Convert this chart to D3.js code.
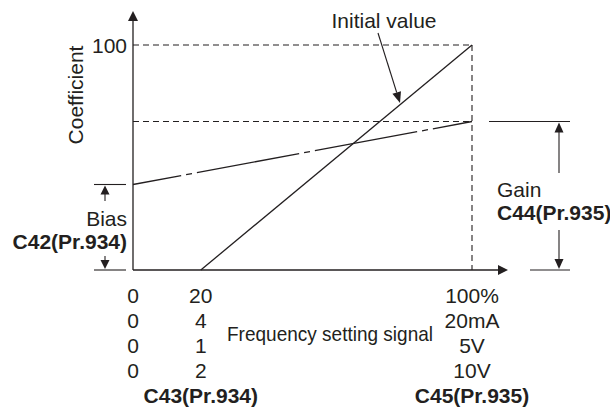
<!DOCTYPE html>
<html><head><meta charset="utf-8">
<script src="https://cdn.jsdelivr.net/npm/d3@7"></script>
<style>
html,body{margin:0;padding:0;background:#fff;}
svg{display:block;}
text{font-family:"Liberation Sans",Arial,sans-serif;fill:#231f20;}
</style></head>
<body>
<script>
// ---- data ----
const coefTicks = [100];
const biasValue = 38;      // coefficient at 0 % signal (bias)
const gainValue = 66;      // coefficient at 100 % signal (gain)
const signalTickPositions = [0, 20, 100];   // % of frequency setting signal
const signalRows = [
  ["0", "20", "100%"],
  ["0", "4", "20mA"],
  ["0", "1", "5V"],
  ["0", "2", "10V"]
];
const paramLabels = ["C43(Pr.934)", "C45(Pr.935)"];
const initialLine = [{x: 20, y: 0}, {x: 100, y: 100}];
const adjustedLine = [{x: 0, y: biasValue}, {x: 100, y: gainValue}];

// ---- drawing ----
const W = 610, H = 407;
const ink = "#231f20";
const svg = d3.select("body").append("svg").attr("width", W).attr("height", H);
const x = d3.scaleLinear().domain([0, 100]).range([133, 472]);
const y = d3.scaleLinear().domain([0, 100]).range([270, 45]);
const FS = 21;

function tri(cx, cy, dir, w = 10, h = 10) {
  let pts;
  if (dir === "up") pts = [[cx, cy], [cx - w / 2, cy + h], [cx + w / 2, cy + h]];
  else if (dir === "down") pts = [[cx, cy], [cx - w / 2, cy - h], [cx + w / 2, cy - h]];
  else pts = [[cx, cy], [cx - h, cy - w / 2], [cx - h, cy + w / 2]];
  svg.append("polygon").attr("points", pts.map(p => p.join(",")).join(" ")).attr("fill", ink);
}
function line(x1, y1, x2, y2, opts = {}) {
  const l = svg.append("line").attr("x1", x1).attr("y1", y1).attr("x2", x2).attr("y2", y2)
    .attr("stroke", opts.color || ink).attr("stroke-width", opts.w || 1.2);
  if (opts.dash) l.attr("stroke-dasharray", opts.dash);
  if (opts.offset) l.attr("stroke-dashoffset", opts.offset);
  return l;
}

// dashed reference lines
coefTicks.forEach(t => line(x(0), y(t), x(100), y(t), {dash: "6,4", w: 1.1}));
line(x(0), y(gainValue), x(100), y(gainValue), {dash: "6,4", w: 1.1});
line(x(100), y(100), x(100), y(0), {dash: "6,4", w: 1.1});

// axes
line(x(0), y(0), x(0), 20, {w: 1.3});
tri(x(0), 11, "up");
line(x(0), y(0), 498, y(0), {w: 1.3});
tri(508, y(0), "right");

// lines
const lg = d3.line().x(d => x(d.x)).y(d => y(d.y));
svg.append("path").datum(initialLine).attr("d", lg).attr("fill", "none").attr("stroke", ink).attr("stroke-width", 1.3);
svg.append("path").datum(adjustedLine).attr("d", lg).attr("fill", "none").attr("stroke", ink).attr("stroke-width", 1.3)
  .attr("stroke-dasharray", "104,5,6,5").attr("stroke-dashoffset", 55);

// y tick label
coefTicks.forEach(t => svg.append("text").attr("x", 127).attr("y", y(t) + 8).attr("text-anchor", "end")
  .attr("font-size", FS).text(t));

// y title
svg.append("text").attr("transform", "translate(83,95) rotate(-90)").attr("text-anchor", "middle")
  .attr("font-size", FS).text("Coefficient");

// initial value label and arrow
svg.append("text").attr("x", 384).attr("y", 28).attr("text-anchor", "middle").attr("font-size", FS).text("Initial value");
{
  const x1 = 378, y1 = 33, x2 = 400, y2 = 103;
  const ang = Math.atan2(y2 - y1, x2 - x1);
  const hl = 11, hw = 4.5;
  const bx = x2 - hl * Math.cos(ang), by = y2 - hl * Math.sin(ang);
  line(x1, y1, bx, by, {w: 1.1});
  svg.append("polygon").attr("fill", ink).attr("points", [
    [x2, y2],
    [bx + hw * Math.sin(ang), by - hw * Math.cos(ang)],
    [bx - hw * Math.sin(ang), by + hw * Math.cos(ang)]
  ].map(p => p.join(",")).join(" "));
}

// bias annotation
line(94, y(biasValue), 126, y(biasValue), {w: 1.1});
line(94, y(0), 126, y(0), {w: 1.1});
tri(105, y(biasValue) + 1, "up", 9, 9);
line(105, y(biasValue) + 9, 105, 201, {w: 1.1});
line(105, 256, 105, y(0) - 9, {w: 1.1});
tri(105, y(0) - 1, "down", 9, 9);
svg.append("text").attr("x", 127).attr("y", 226).attr("text-anchor", "end").attr("font-size", FS).text("Bias");
svg.append("text").attr("x", 127).attr("y", 249).attr("text-anchor", "end").attr("font-size", FS)
  .attr("font-weight", "bold").text("C42(Pr.934)");

// gain annotation
line(489, y(gainValue), 570, y(gainValue), {w: 1.1});
line(530, y(0), 570, y(0), {w: 1.1});
tri(559, y(gainValue) + 1, "up", 9, 10);
line(559, y(gainValue) + 10, 559, 173, {w: 1.1});
line(559, 230, 559, y(0) - 10, {w: 1.1});
tri(559, y(0) - 1, "down", 9, 10);
svg.append("text").attr("x", 497).attr("y", 197).attr("font-size", FS).text("Gain");
svg.append("text").attr("x", 497).attr("y", 220).attr("font-size", FS).attr("font-weight", "bold").text("C44(Pr.935)");

// signal rows
signalRows.forEach((row, i) => {
  row.forEach((lab, j) => {
    svg.append("text").attr("x", x(signalTickPositions[j])).attr("y", 303 + i * 25)
      .attr("text-anchor", "middle").attr("font-size", FS).text(lab);
  });
});
svg.append("text").attr("x", 227).attr("y", 341).attr("font-size", FS)
  .attr("textLength", 206).attr("lengthAdjust", "spacingAndGlyphs")
  .text("Frequency setting signal");
svg.append("text").attr("x", x(20)).attr("y", 403).attr("text-anchor", "middle").attr("font-size", FS)
  .attr("font-weight", "bold").text(paramLabels[0]);
svg.append("text").attr("x", x(100)).attr("y", 403).attr("text-anchor", "middle").attr("font-size", FS)
  .attr("font-weight", "bold").text(paramLabels[1]);
</script>
</body></html>
